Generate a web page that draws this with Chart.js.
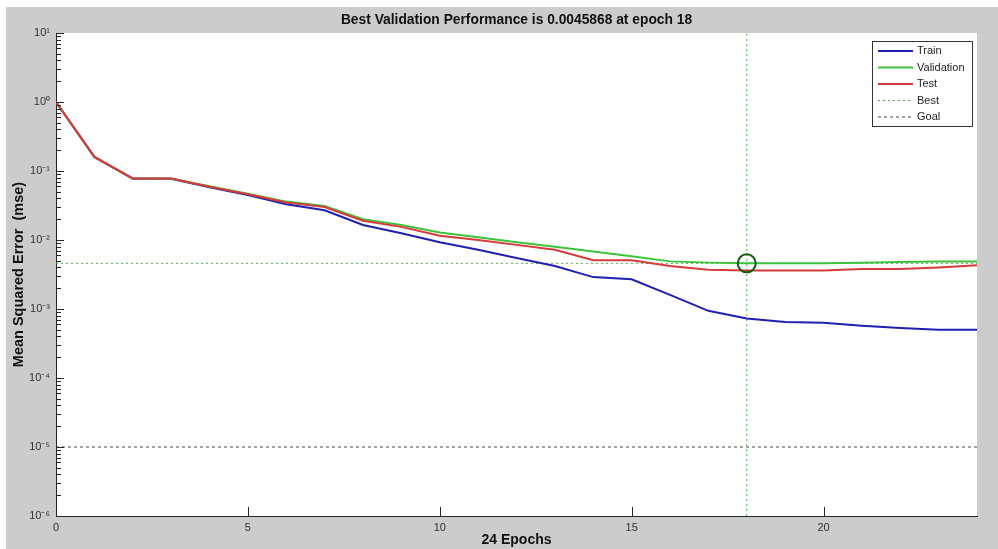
<!DOCTYPE html>
<html>
<head>
<meta charset="utf-8">
<title>Best Validation Performance</title>
<script src="https://cdn.jsdelivr.net/npm/chart.js@4"></script>
<style>
    body { margin: 0; background: #fff; }
    #wrap { position: absolute; left: 6px; top: 7px; width: 992px; height: 542px; background: #cccccc; }
</style>
</head>
<body>
<div id="wrap"><canvas id="perf-chart" width="992" height="542"></canvas></div>
<script>
// Chart data
const epochs = [0, 1, 2, 3, 4, 5, 6, 7, 8, 9, 10, 11, 12, 13, 14, 15, 16, 17, 18, 19, 20, 21, 22, 23, 24];
const trainPerf = [1.0, 0.16, 0.077, 0.077, 0.058, 0.045, 0.033, 0.027, 0.0165, 0.0125, 0.0093, 0.0072, 0.0055, 0.0042, 0.0029, 0.0027, 0.0016, 0.00094, 0.00073, 0.00065, 0.00063, 0.00057, 0.00053, 0.0005, 0.0005];
const valPerf = [1.0, 0.16, 0.078, 0.078, 0.06, 0.047, 0.036, 0.031, 0.020, 0.0165, 0.0128, 0.011, 0.0093, 0.0080, 0.0068, 0.0058, 0.0049, 0.0047, 0.0045868, 0.0046, 0.0046, 0.0047, 0.0048, 0.0049, 0.0049];
const testPerf = [1.0, 0.16, 0.078, 0.078, 0.059, 0.046, 0.035, 0.030, 0.019, 0.0155, 0.0115, 0.0100, 0.0085, 0.0072, 0.0051, 0.0051, 0.0042, 0.0037, 0.0036, 0.0036, 0.0036, 0.0038, 0.0038, 0.0040, 0.0043];
const bestEpoch = 18;
const bestPerf = 0.0045868;
const goalPerf = 1e-5;

// Axis ticks
const xTicks = [0, 5, 10, 15, 20];
const yTicks = [1e-6, 1e-5, 1e-4, 1e-3, 1e-2, 1e-1, 1e0, 1e1];
const yTickLabels = ['10⁻⁶', '10⁻⁵', '10⁻⁴', '10⁻³', '10⁻²', '10⁻¹', '10⁰', '10¹'];

const FONT = '"Liberation Sans", Arial, sans-serif';

function toPoints(xs, ys) {
    return xs.map((x, i) => ({ x: x, y: ys[i] }));
}

// White plot background
const plotBackground = {
    id: 'plotBackground',
    beforeDraw(chart) {
        const a = chart.chartArea;
        const ctx = chart.ctx;
        ctx.save();
        ctx.fillStyle = '#ffffff';
        ctx.fillRect(a.left, a.top, a.right - a.left, a.bottom - a.top);
        ctx.restore();
    }
};

// MATLAB style ticks pointing into the plot
const innerTicks = {
    id: 'innerTicks',
    afterDatasetsDraw(chart) {
        const ctx = chart.ctx;
        const a = chart.chartArea;
        const xs = chart.scales.x;
        const ys = chart.scales.y;
        ctx.save();
        ctx.strokeStyle = '#262626';
        ctx.lineWidth = 1;
        ctx.beginPath();
        xTicks.forEach(v => {
            const px = Math.round(xs.getPixelForValue(v)) + 0.5;
            ctx.moveTo(px, a.bottom);
            ctx.lineTo(px, a.bottom - 9);
        });
        for (let e = -6; e <= 1; e++) {
            const base = Math.pow(10, e);
            const py = Math.round(ys.getPixelForValue(base)) + 0.5;
            ctx.moveTo(a.left, py);
            ctx.lineTo(a.left + 8, py);
            if (e < 1) {
                for (let m = 2; m <= 9; m++) {
                    const my = Math.round(ys.getPixelForValue(m * base)) + 0.5;
                    ctx.moveTo(a.left, my);
                    ctx.lineTo(a.left + 5, my);
                }
            }
        }
        ctx.stroke();
        ctx.restore();
    }
};

// Boxed legend in the top right corner
const boxLegend = {
    id: 'boxLegend',
    afterDraw(chart) {
        const ctx = chart.ctx;
        const a = chart.chartArea;
        const items = chart.data.datasets.filter(ds => ds.inLegend);
        const w = 100, h = 85;
        const left = a.right - 5 - w;
        const top = a.top + 8;
        ctx.save();
        ctx.fillStyle = '#ffffff';
        ctx.fillRect(left, top, w, h);
        ctx.strokeStyle = '#333333';
        ctx.lineWidth = 1;
        ctx.strokeRect(left + 0.5, top + 0.5, w, h);
        ctx.font = '11px ' + FONT;
        ctx.textBaseline = 'middle';
        ctx.fillStyle = '#222222';
        items.forEach((ds, i) => {
            const y = top + 10 + i * 16.5;
            ctx.beginPath();
            ctx.strokeStyle = ds.borderColor;
            ctx.lineWidth = ds.legendWidth;
            ctx.setLineDash(ds.borderDash || []);
            ctx.moveTo(left + 6, y);
            ctx.lineTo(left + 41, y);
            ctx.stroke();
            ctx.setLineDash([]);
            ctx.fillText(ds.label, left + 45, y);
        });
        ctx.restore();
    }
};

function initializeChart() {
    const ctx = document.getElementById('perf-chart').getContext('2d');

    const lineBase = { pointRadius: 0, borderWidth: 2, tension: 0, fill: false, showLine: true };

    new Chart(ctx, {
        type: 'scatter',
        data: {
            datasets: [
                Object.assign({ label: 'Train', data: toPoints(epochs, trainPerf), borderColor: '#2020b0', order: 3, inLegend: true, legendWidth: 2 }, lineBase),
                Object.assign({ label: 'Validation', data: toPoints(epochs, valPerf), borderColor: '#3ec23e', order: 2, inLegend: true, legendWidth: 2 }, lineBase),
                Object.assign({ label: 'Test', data: toPoints(epochs, testPerf), borderColor: '#d63a3a', order: 1, inLegend: true, legendWidth: 2 }, lineBase),
                Object.assign({ label: 'Best', data: [{ x: 0, y: bestPerf }, { x: 24, y: bestPerf }], borderColor: '#4caf50', order: 4, inLegend: true, legendWidth: 1 }, lineBase, { borderWidth: 1, borderDash: [2, 3] }),
                Object.assign({ label: 'Best epoch', data: [{ x: bestEpoch, y: 1e-6 }, { x: bestEpoch, y: 10 }], borderColor: '#4caf50', order: 4 }, lineBase, { borderWidth: 1, borderDash: [2, 3] }),
                Object.assign({ label: 'Goal', data: [{ x: 0, y: goalPerf }, { x: 24, y: goalPerf }], borderColor: '#444444', order: 4, inLegend: true, legendWidth: 1 }, lineBase, { borderWidth: 1, borderDash: [3, 3] }),
                {
                    label: 'Best point',
                    data: [{ x: bestEpoch, y: bestPerf }],
                    showLine: false,
                    pointRadius: 9,
                    pointBorderWidth: 2,
                    pointBorderColor: '#145c14',
                    pointBackgroundColor: 'rgba(0,0,0,0)',
                    order: 0
                }
            ]
        },
        options: {
            responsive: false,
            animation: false,
            devicePixelRatio: 1,
            layout: { padding: { left: 0, right: 21, top: 0, bottom: 0 } },
            scales: {
                x: {
                    type: 'linear',
                    min: 0,
                    max: 24,
                    afterBuildTicks: s => { s.ticks = xTicks.map(v => ({ value: v })); },
                    afterFit: s => { s.height = 33; },
                    grid: { display: false, drawTicks: false },
                    border: { color: '#262626', width: 1 },
                    ticks: { color: '#333333', padding: 5, autoSkip: false, maxRotation: 0, font: { family: FONT, size: 11 } },
                    title: { display: true, text: '24 Epochs', color: '#111111', padding: { top: 0, bottom: 0 }, font: { family: FONT, size: 14, weight: 'bold' } }
                },
                y: {
                    type: 'logarithmic',
                    min: 1e-6,
                    max: 10,
                    afterBuildTicks: s => { s.ticks = yTicks.map(v => ({ value: v, major: true })); },
                    afterFit: s => { s.width = 50; },
                    grid: { display: false, drawTicks: false },
                    border: { color: '#262626', width: 1 },
                    ticks: {
                        color: '#333333',
                        padding: 6,
                        autoSkip: false,
                        font: { family: FONT, size: 11 },
                        callback: (value, index) => yTickLabels[index]
                    },
                    title: { display: true, text: 'Mean Squared Error  (mse)', color: '#111111', padding: { top: 4, bottom: 0 }, font: { family: FONT, size: 14.5, weight: 'bold' } }
                }
            },
            plugins: {
                legend: { display: false },
                tooltip: { enabled: false },
                title: {
                    display: true,
                    fullSize: false,
                    text: 'Best Validation Performance is 0.0045868 at epoch 18',
                    color: '#111111',
                    padding: { top: 5, bottom: 5 },
                    font: { family: FONT, size: 13.8, weight: 'bold', lineHeight: '16px' }
                }
            }
        },
        plugins: [plotBackground, innerTicks, boxLegend]
    });
}

document.addEventListener('DOMContentLoaded', function() {
    initializeChart();
});
</script>
</body>
</html>
